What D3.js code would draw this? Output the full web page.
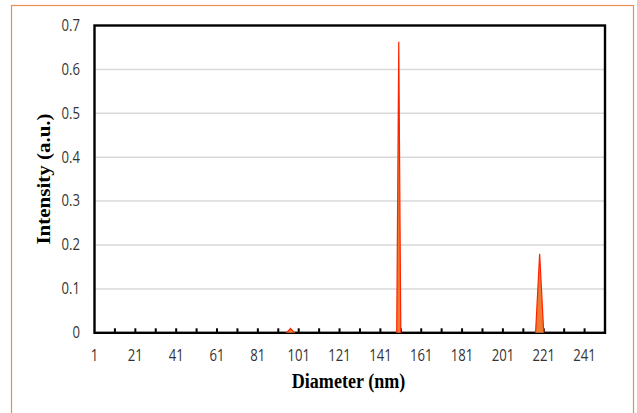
<!DOCTYPE html>
<html>
<head>
<meta charset="utf-8">
<script src="https://cdn.jsdelivr.net/npm/d3@7"></script>
<style>
  html, body { margin: 0; padding: 0; background: #fff; }
  svg { display: block; }
</style>
</head>
<body>
<div class="canvas"></div>
<script>
// data
const diameters = d3.range(1, 252); // category axis 1..251 nm
const peakDiameters = [96, 97, 98, 150, 218, 219, 220];
const peakIntensities = [0.005, 0.01, 0.005, 0.663, 0.09, 0.18, 0.09];
const xTickLabels = [1, 21, 41, 61, 81, 101, 121, 141, 161, 181, 201, 221, 241];
const xTickMarks = [11, 21, 31, 41, 51, 61, 71, 81, 91, 101, 111, 121, 131, 141, 151, 161, 171, 181, 191, 201, 211, 221, 231, 241, 251];
const yTicks = [0, 0.1, 0.2, 0.3, 0.4, 0.5, 0.6, 0.7];
const yTickLabels = ['0', '0.1', '0.2', '0.3', '0.4', '0.5', '0.6', '0.7'];

const data = diameters.map(d => {
  const i = peakDiameters.indexOf(d);
  return { diameter: d, intensity: i >= 0 ? peakIntensities[i] : 0 };
});

const width = 637;
const height = 413;
const plot = { left: 94.5, right: 605, top: 25.5, bottom: 332.8 };

const svg = d3
  .select('.canvas')
  .append('svg')
  .attr('width', width)
  .attr('height', height);

// outer chart border
svg
  .append('rect')
  .attr('x', 11.5)
  .attr('y', 5.5)
  .attr('width', 622)
  .attr('height', 420)
  .attr('fill', 'none')
  .attr('stroke', '#e98c56')
  .attr('stroke-width', 1.2);

// scales
const x = d3.scaleLinear().domain([1, 251]).range([plot.left, plot.right]);
const y = d3.scaleLinear().domain([0, 0.7]).range([plot.bottom, plot.top]);

// gridlines
svg
  .append('g')
  .selectAll('line')
  .data(yTicks.filter(d => d > 0 && d < 0.7))
  .enter()
  .append('line')
  .attr('x1', plot.left)
  .attr('x2', plot.right)
  .attr('y1', d => y(d))
  .attr('y2', d => y(d))
  .attr('stroke', '#d9d9d9')
  .attr('stroke-width', 1.5);

// plot frame
svg
  .append('rect')
  .attr('x', plot.left)
  .attr('y', plot.top)
  .attr('width', plot.right - plot.left)
  .attr('height', plot.bottom - plot.top)
  .attr('fill', 'none')
  .attr('stroke', '#000')
  .attr('stroke-width', 2.4);

// x tick marks (pointing inward)
svg
  .append('g')
  .selectAll('line')
  .data(xTickMarks)
  .enter()
  .append('line')
  .attr('x1', d => x(d))
  .attr('x2', d => x(d))
  .attr('y1', plot.bottom)
  .attr('y2', plot.bottom - 4.5)
  .attr('stroke', '#000')
  .attr('stroke-width', 2);

// area
const area = d3
  .area()
  .x(d => x(d.diameter))
  .y0(y(0))
  .y1(d => y(d.intensity));

svg
  .append('path')
  .datum(data)
  .attr('fill', '#ed7d31')
  .attr('d', area);

// red outline only around peaks
const nonzero = (i) => data[i] && data[i].intensity > 0;
const line = d3
  .line()
  .defined((d, i) => nonzero(i) || nonzero(i - 1) || nonzero(i + 1))
  .x(d => x(d.diameter))
  .y(d => y(d.intensity));

svg
  .append('path')
  .datum(data)
  .attr('fill', 'none')
  .attr('stroke', '#ff2200')
  .attr('stroke-width', 1.2)
  .attr('d', line);

// tick labels
const labelFont = "'Open Sans', sans-serif";

svg
  .append('g')
  .selectAll('text')
  .data(xTickLabels)
  .enter()
  .append('text')
  .attr('transform', d => `translate(${x(d)}, 361) scale(0.82, 1)`)
  .attr('text-anchor', 'middle')
  .attr('font-family', labelFont)
  .attr('font-size', 16)
  .attr('fill', '#333')
  .text(d => d);

svg
  .append('g')
  .selectAll('text')
  .data(yTicks)
  .enter()
  .append('text')
  .attr('transform', d => `translate(80, ${y(d) + 5.3}) scale(0.82, 1)`)
  .attr('text-anchor', 'end')
  .attr('font-family', labelFont)
  .attr('font-size', 16)
  .attr('fill', '#333')
  .text((d, i) => yTickLabels[i]);

// axis titles
svg
  .append('text')
  .attr('transform', 'translate(348.5, 387.5) scale(0.86, 1)')
  .attr('text-anchor', 'middle')
  .attr('font-family', "'Liberation Serif', 'Times New Roman', serif")
  .attr('font-weight', 'bold')
  .attr('font-size', 21)
  .attr('fill', '#000')
  .text('Diameter (nm)');

svg
  .append('text')
  .attr('transform', 'translate(50, 179) rotate(-90) scale(1, 0.86)')
  .attr('text-anchor', 'middle')
  .attr('font-family', "'Liberation Serif', 'Times New Roman', serif")
  .attr('font-weight', 'bold')
  .attr('font-size', 21)
  .attr('fill', '#000')
  .text('Intensity (a.u.)');
</script>
</body>
</html>
